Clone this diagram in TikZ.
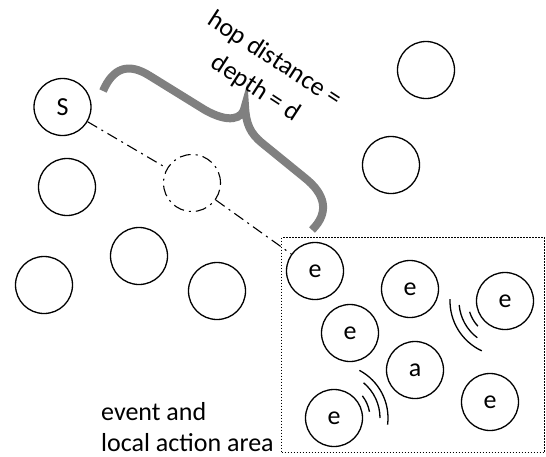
\documentclass[tikz,border=0pt]{standalone}
\usepackage{fontspec}
\setmainfont{Carlito}
\definecolor{bracegray}{RGB}{128,128,128}
\begin{document}
\begin{tikzpicture}[x=1pt,y=1pt,
  nd/.style={circle,draw,line width=1.3pt,minimum size=57pt,inner sep=0pt,font=\fontsize{26}{32}\selectfont},
  dashdot/.style={line width=1.1pt,dash pattern=on 11pt off 5pt on 2pt off 5pt},
  wave/.style={line width=1.3pt},
  bracestyle/.style={draw=bracegray,line width=8pt},
  areabox/.style={draw,line width=1.2pt,dash pattern=on 1.5pt off 1.5pt,inner sep=0pt,minimum width=263pt,minimum height=215pt,anchor=north west},
  txt/.style={font=\fontsize{26}{31}\selectfont},
  bracetxt/.style={font=\fontsize{26}{34}\selectfont}
  ]
\useasboundingbox (0,0) rectangle (546,-456);
% area box
\node[areabox] (area) at (281,-237) {};
% nodes
\node[nd] (s) at (62.5,-107) {S};
\node[nd] (c0) at (67,-187) {};
\node[nd] (c2) at (139,-256) {};
\node[nd] (c1) at (44,-285) {};
\node[nd] (c3) at (217,-291) {};
\node[nd] (c4) at (426,-70) {};
\node[nd] (c5) at (391,-165) {};
\node[nd,dashdot] (d) at (192,-183) {};
\node[nd] (e1) at (315,-271) {e};
\node[nd] (e2) at (410,-289) {e};
\node[nd] (e3) at (505,-301) {e};
\node[nd] (e4) at (350,-333) {e};
\node[nd] (a) at (415,-370) {a};
\node[nd] (e5) at (490,-402) {e};
\node[nd] (e6) at (334,-418) {e};
% hop line
\draw[dashdot] (s) -- (d);
\draw[dashdot] (d) -- (e1);
% waves
\draw[wave] (e3.center) ++(178:55) arc[start angle=178,end angle=245,radius=55];
\draw[wave] (e3.center) ++(185:46) arc[start angle=185,end angle=233,radius=46];
\draw[wave] (e3.center) ++(197:37) arc[start angle=197,end angle=223,radius=37];
\draw[wave] (e6.center) ++(-7:54) arc[start angle=-7,end angle=62,radius=54];
\draw[wave] (e6.center) ++(0:46) arc[start angle=0,end angle=50,radius=46];
\draw[wave] (e6.center) ++(10:36) arc[start angle=10,end angle=38,radius=36];
% brace
\draw[bracestyle] (103,-91) .. controls (113,-68) and (128,-62) .. (150,-76) -- (205,-110) .. controls (228,-123) and (243,-120) .. (245,-106)
  .. controls (246,-124) and (250,-133) .. (262,-143) -- (305,-178) .. controls (325,-194) and (330,-212) .. (312,-230);
\node[bracetxt,rotate=-33,align=center] (lbl) at (265,-74) {hop distance =\\depth = d};
% area label
\node[txt,anchor=base west,align=left,inner sep=0pt] (arealbl) at (101,-451) {event and\\local action area};
\end{tikzpicture}
\end{document}
